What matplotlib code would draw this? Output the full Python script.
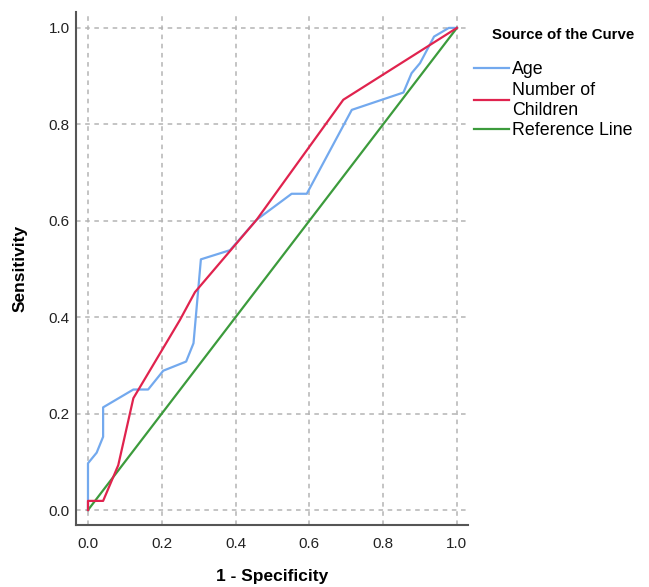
import matplotlib
matplotlib.use("Agg")
import matplotlib.pyplot as plt
from matplotlib.lines import Line2D

plt.rcParams['font.family'] = ['Liberation Sans', 'DejaVu Sans']

age_x = [0.0, 0.0, 0.0235, 0.041, 0.041, 0.123, 0.163, 0.204, 0.266, 0.286, 0.306, 0.385, 0.457,
         0.552, 0.593, 0.715, 0.855, 0.877, 0.90, 0.938, 0.978, 1.0]
age_y = [0.0, 0.097, 0.119, 0.152, 0.213, 0.250, 0.250, 0.289, 0.308, 0.346, 0.520, 0.539, 0.602,
         0.656, 0.656, 0.830, 0.866, 0.906, 0.927, 0.982, 1.0, 1.0]

kids_x = [0.0, 0.0, 0.041, 0.082, 0.123, 0.249, 0.290, 0.457, 0.692, 1.0]
kids_y = [0.0, 0.019, 0.019, 0.093, 0.232, 0.394, 0.452, 0.602, 0.851, 1.0]

ref_x = [0.0, 1.0]
ref_y = [0.0, 1.0]

ticks = [0.0, 0.2, 0.4, 0.6, 0.8, 1.0]
tick_labels = ["0.0", "0.2", "0.4", "0.6", "0.8", "1.0"]

series_labels = ['Age', 'Number of\nChildren', 'Reference Line']
legend_title = 'Source of the Curve'

W, H = 649, 587
fig = plt.figure(figsize=(W / 100, H / 100), dpi=100)
ax = fig.add_axes([76 / W, 1 - 525 / H, (468 - 76) / W, (525 - 12) / H])

blue = '#73A9EE'
red = '#E0234E'
green = '#3C9B3C'

ax.plot(age_x, age_y, color=blue, lw=1.6, zorder=3)
ax.plot(kids_x, kids_y, color=red, lw=1.6, zorder=4)
ax.plot(ref_x, ref_y, color=green, lw=1.6, zorder=2)

ax.set_xlim(-0.0325, 1.03)
ax.set_ylim(-0.031, 1.033)
ax.set_xticks(ticks)
ax.set_xticklabels(tick_labels)
ax.set_yticks(ticks)
ax.set_yticklabels(tick_labels)
ax.tick_params(axis='both', labelsize=11, length=0, colors='#222222')
ax.tick_params(axis='x', pad=9)
ax.tick_params(axis='y', pad=4.5)

ax.grid(True, color='#b4b4b4', linestyle=(0, (3, 3)), linewidth=1.1)
ax.set_axisbelow(True)

for s in ['top', 'right']:
    ax.spines[s].set_visible(False)
for s in ['left', 'bottom']:
    ax.spines[s].set_color('#555555')
    ax.spines[s].set_linewidth(1.5)

fig.text(272 / W, 1 - 576 / H, '1 - Specificity', fontsize=12.5, fontweight='bold',
         ha='center', va='center')
fig.text(20 / W, 1 - 268 / H, 'Sensitivity', fontsize=12.5, fontweight='bold',
         ha='center', va='center', rotation=90)

handles = [Line2D([], [], color=c, lw=1.6) for c in (blue, red, green)]
leg = fig.legend(handles, series_labels, loc='upper left', bbox_to_anchor=(474 / W, 1 - 61 / H),
                 frameon=False, fontsize=12.8, handlelength=1.95, handletextpad=0.17,
                 labelspacing=0.2, borderaxespad=0.0, borderpad=0.0)
for t in leg.get_texts():
    t.set_linespacing(1.25)

fig.text(492 / W, 1 - 35 / H, legend_title, fontsize=10.8, fontweight='bold',
         ha='left', va='center')

fig.savefig('out.png', dpi=100)
